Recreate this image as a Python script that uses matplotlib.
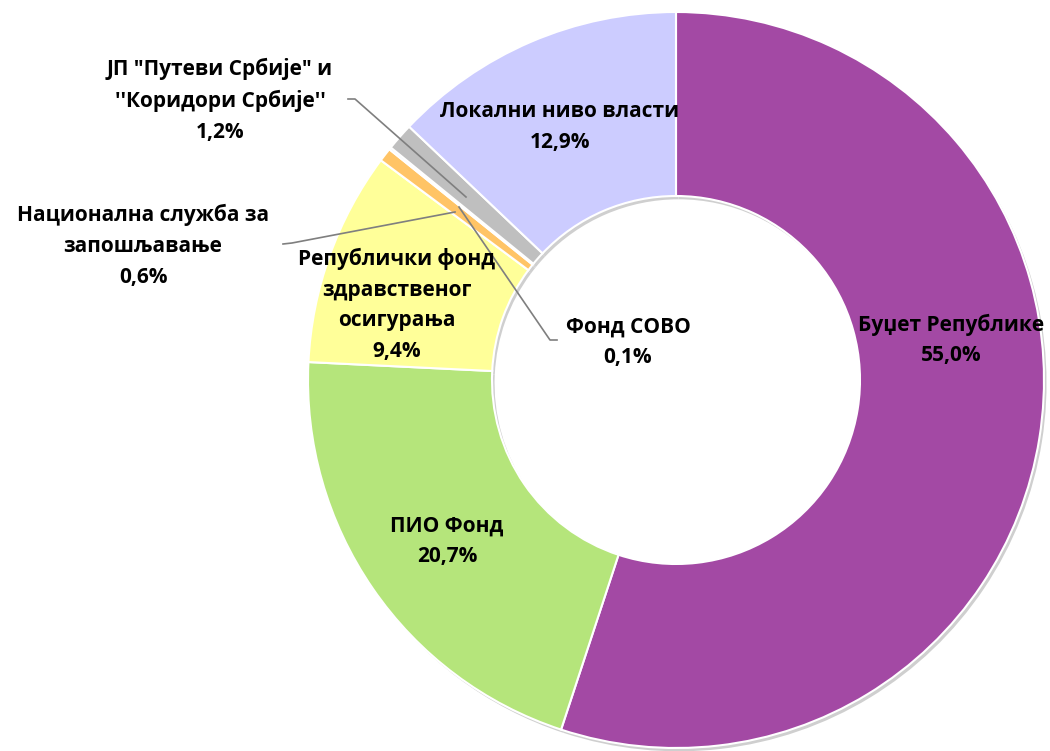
import matplotlib.pyplot as plt

# Подаци (проценти)
labels = ['Буџет Републике', 'ПИО Фонд', 'Републички фонд\nздравственог\nосигурања',
          'Национална служба за\nзапошљавање', 'Фонд СОВО',
          'ЈП "Путеви Србије" и\n\'\'Коридори Србије\'\'', 'Локални ниво власти']
values = [55.0, 20.7, 9.4, 0.6, 0.1, 1.2, 12.9]
value_text = ['55,0%', '20,7%', '9,4%', '0,6%', '0,1%', '1,2%', '12,9%']
colors = ['#A349A4', '#B5E57B', '#FFFF99', '#FFC466', '#CCECFF', '#BFBFBF', '#CCCCFF']

plt.rcParams['font.family'] = ['Open Sans', 'DejaVu Sans']

W, H = 1050, 751
cx, cy, R = 676, 380, 368


def px(x, y):
    # пиксели -> координате осе
    return (x - cx) / R, (cy - y) / R


fig = plt.figure(figsize=(W / 100, H / 100), dpi=100)
ax = fig.add_axes([0, 0, 1, 1])

# лагана сенка
ax.pie(values, radius=1.0, center=(0.007, -0.009), startangle=90, counterclock=False,
       colors=['#cfcfcf'] * len(values),
       wedgeprops=dict(width=0.5, edgecolor='none'))
ax.pie(values, radius=1.0, startangle=90, counterclock=False, colors=colors,
       wedgeprops=dict(width=0.5, edgecolor='white', linewidth=1.5))
ax.set_xlim(-cx / R, (W - cx) / R)
ax.set_ylim(-(H - cy) / R, cy / R)
ax.set_aspect('equal')
ax.axis('off')

# позиције натписа (у пикселима)
label_pos = [(951, 340), (447, 541), (397, 305), (143, 246), (628, 342), (220, 100), (560, 127)]
for lab, val, (x, y) in zip(labels, value_text, label_pos):
    ax.text(*px(x, y), lab + '\n' + val, ha='center', va='center', fontsize=15,
            fontweight='bold', linespacing=1.6, color='black')

# линије ка малим исечцима
leaders = [
    [(348, 99), (355, 99), (466, 197)],
    [(283, 244), (292, 243), (455, 212)],
    [(459, 207), (550, 340), (557, 340)],
]
for pts in leaders:
    xs, ys = zip(*[px(x, y) for x, y in pts])
    ax.plot(xs, ys, color='#7f7f7f', lw=1.2)

fig.savefig('out.png', dpi=100)
